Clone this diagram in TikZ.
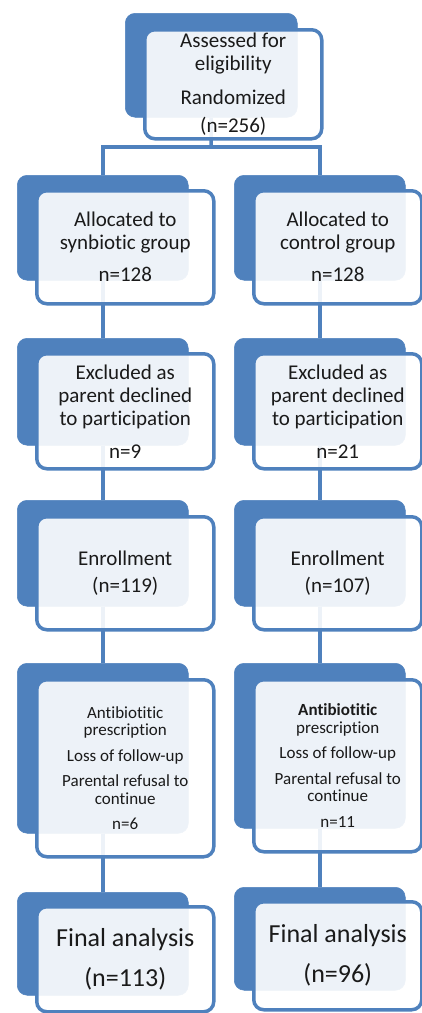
\documentclass[tikz,border=0pt]{standalone}
\usepackage{fontspec}
\setmainfont{Carlito}[Ligatures=NoCommon]
\definecolor{obl}{HTML}{4F81BD}
\definecolor{txt}{HTML}{1A1A1A}
\tikzset{
  backbox/.style={fill=obl, draw=obl, line width=0.5pt, rounded corners=10pt, inner sep=0pt, anchor=north west},
  frontbox/.style={draw=obl, line width=3.5pt, fill=white, fill opacity=0.9, text opacity=1, rounded corners=10pt, inner sep=0pt, align=center, text=txt, anchor=north west},
  link/.style={draw=obl, line width=3.5pt},
  big/.style={font=\fontsize{21}{23}\selectfont},
  smalltxt/.style={font=\fontsize{17}{17.5}\selectfont},
  hugetxt/.style={font=\fontsize{26}{32}\selectfont},
  lw/.style={minimum width=171pt},
  fw/.style={minimum width=177pt},
  rfw/.style={minimum width=168pt}
}
\begin{document}
\begin{tikzpicture}[x=1pt, y=-1pt]
\path[use as bounding box] (0,0) rectangle (422,1013);
\clip (0,0) rectangle (422,1013);
% back boxes
\node[backbox, minimum width=172pt, minimum height=104pt] (tb) at (125,13) {};
\node[backbox, lw, minimum height=105pt] (l1b) at (17,175) {};
\node[backbox, lw, minimum height=105pt] (r1b) at (234,175) {};
\node[backbox, lw, minimum height=107pt] (l2b) at (17,338) {};
\node[backbox, lw, minimum height=107pt] (r2b) at (234,338) {};
\node[backbox, lw, minimum height=106pt] (l3b) at (17,500) {};
\node[backbox, lw, minimum height=106pt] (r3b) at (234,500) {};
\node[backbox, lw, minimum height=170pt] (l4b) at (17,663) {};
\node[backbox, lw, minimum height=165pt] (r4b) at (234,663) {};
\node[backbox, lw, minimum height=103pt] (l5b) at (17,892) {};
\node[backbox, lw, minimum height=103pt] (r5b) at (234,887) {};
% connectors
\coordinate (split) at (211,147);
\draw[link] (tb.south) -- (split);
\draw[link] (l1b.north) |- (split) -| (r1b.north);
\draw[link] (l1b.south) -- (l2b.north);
\draw[link] (l2b.south) -- (l3b.north);
\draw[link] (l3b.south) -- (l4b.north);
\draw[link] (l4b.south) -- (l5b.north);
\draw[link] (r1b.south) -- (r2b.north);
\draw[link] (r2b.south) -- (r3b.north);
\draw[link] (r3b.south) -- (r4b.north);
\draw[link] (r4b.south) -- (r5b.north);
% front boxes
\node[frontbox, big, fw, minimum height=109pt] (tf) at (143,28)
  {Assessed for\\eligibility\\[11pt]Randomized\\[5pt](n=256)};
\node[frontbox, big, fw, minimum height=113pt] (l1f) at (35,189)
  {Allocated to\\synbiotic group\\[9pt]n=128};
\node[frontbox, big, rfw, minimum height=113pt] (r1f) at (252,189)
  {Allocated to\\control group\\[9pt]n=128};
\node[frontbox, big, fw, minimum height=115pt] (l2f) at (35,352)
  {Excluded as\\parent declined\\to participation\\[10pt]n=9};
\node[frontbox, big, rfw, minimum height=115pt] (r2f) at (252,352)
  {Excluded as\\parent declined\\to participation\\[10pt]n=21};
\node[frontbox, big, fw, minimum height=113pt] (l3f) at (35,515)
  {Enrollment\\[4pt](n=119)};
\node[frontbox, big, rfw, minimum height=113pt] (r3f) at (252,515)
  {Enrollment\\[4pt](n=107)};
\node[frontbox, smalltxt, fw, minimum height=177pt] (l4f) at (35,678)
  {Antibiotitic\\prescription\\[8pt]Loss of follow-up\\[8pt]Parental refusal to\\continue\\[8pt]n=6};
\node[frontbox, smalltxt, rfw, minimum height=172pt] (r4f) at (252,678)
  {\textbf{Antibiotitic}\\prescription\\[8pt]Loss of follow-up\\[8pt]Parental refusal to\\continue\\[8pt]n=11};
\node[frontbox, hugetxt, fw, minimum height=105pt] (l5f) at (35,905)
  {Final analysis\\[8pt](n=113)};
\node[frontbox, hugetxt, rfw, minimum height=108pt] (r5f) at (252,900)
  {Final analysis\\[8pt](n=96)};
\end{tikzpicture}
\end{document}
